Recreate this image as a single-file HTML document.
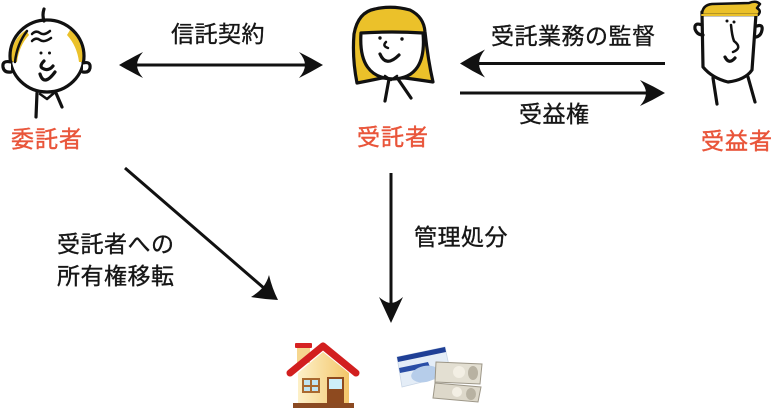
<!DOCTYPE html>
<html>
<head>
<meta charset="utf-8">
<style>
  html,body{margin:0;padding:0;background:#fff;}
  body{width:773px;height:414px;position:relative;overflow:hidden;}
  svg{position:absolute;left:0;top:0;}
  .t{position:absolute;white-space:nowrap;font-family:"Liberation Sans","Noto Sans CJK JP",sans-serif;font-size:23px;line-height:23px;letter-spacing:0.5px;color:#161616;-webkit-text-stroke:0.35px #161616;}
  .o{color:#E9553A;letter-spacing:1px;-webkit-text-stroke:0.4px #E9553A;}
</style>
</head>
<body>
<svg width="773" height="414" viewBox="0 0 773 414" xmlns="http://www.w3.org/2000/svg">
  <defs>
    <linearGradient id="wall" x1="0" x2="1" y1="0" y2="0">
      <stop offset="0" stop-color="#fdf0c8"/>
      <stop offset="1" stop-color="#f3c66a"/>
    </linearGradient>
  </defs>

  <!-- ===== Grandpa (委託者) ===== -->
  <g stroke="#111" stroke-width="3.2" stroke-linecap="round" stroke-linejoin="round" fill="none">
    <path d="M11,62 Q10,40 26,30 L29,35 Q19,46 17,62 Z" fill="#EBC12A" stroke="none"/>
    <path d="M83,62 Q84,40 70,30 L67,35 Q77,46 79,62 Z" fill="#EBC12A" stroke="none"/>
    <ellipse cx="47" cy="56" rx="37" ry="36" fill="none"/>
    <path d="M27,31 Q17,44 15,62" stroke-width="2.5"/>
    <path d="M11,62 Q2,60 3,67 Q4,73 11,72" fill="#fff"/>
    <path d="M83,63 Q91,61 90,68 Q89,73 83,72" fill="#fff"/>
    <path d="M44,9 Q42,15 44,21"/>
    <path d="M32,34 Q36,30 40,33 Q44,36 50,31" stroke-width="2.5"/>
    <path d="M32,41 Q36,37 40,40 Q44,43 51,38" stroke-width="2.5"/>
    <path d="M44,61 Q38,67 44,69 Q49,71 53,66"/>
    <path d="M40,74 Q44,87 55,72"/>
    <path d="M37,93 L36,117"/>
    <path d="M56,93 L62,107"/>
    <path d="M40,94 L47,99 L54,93" stroke-width="2.5"/>
  </g>
  <circle cx="41" cy="53" r="1.5" fill="#111"/>
  <circle cx="49.5" cy="53" r="1.5" fill="#111"/>

  <!-- ===== Woman (受託者) ===== -->
  <g stroke="#111" stroke-width="3.2" stroke-linecap="round" stroke-linejoin="round">
    <path d="M357,83 Q352,58 354,34 Q358,12 375,9 Q392,5 410,10 Q424,17 425,32 Q428,60 433,82 Q420,80 405,78 L382,78 Q368,81 357,83 Z" fill="#EBC12A"/>
    <path d="M361,33 Q392,31 423,33 Q427,78 393,79 Q358,78 361,33 Z" fill="#fff"/>
    <path d="M386,42 Q382,46 388,48" fill="none" stroke-width="2.5"/>
    <path d="M380,54 Q386,68 399,55" fill="none"/>
    <path d="M389,79 L385,101" fill="none"/>
    <path d="M398,79 L411,98" fill="none"/>
    <path d="M385,76 L391,80 L397,76" fill="none" stroke-width="2.5"/>
  </g>
  <circle cx="380" cy="38" r="1.7" fill="#111"/>
  <circle cx="402" cy="39" r="1.7" fill="#111"/>

  <!-- ===== Man (受益者) ===== -->
  <g stroke="#111" stroke-width="3.2" stroke-linecap="round" stroke-linejoin="round">
    <path d="M702,12 L703,67 Q712,78 728,82 Q745,80 752,70 L756,14 Z" fill="#fff"/>
    <path d="M702,15 Q702,5 712,4 L749,3 Q756,0 760,4 L757,8 Q762,11 758,15 Z" fill="#EBC12A" stroke-width="2.5"/>
    <path d="M702,15 L757,15" fill="none" stroke="#EBC12A" stroke-width="2"/>
    <path d="M702,25 Q694,22 695,29 Q697,35 703,35" fill="none"/>
    <path d="M757,26 Q763,24 762,30 Q761,36 756,37" fill="none"/>
    <path d="M731,25 Q732,36 734,41 Q743,48 733,52" fill="none" stroke-width="2.5"/>
    <path d="M725,57 Q729,65 735,58" fill="none"/>
    <path d="M713,78 L717,104" fill="none"/>
    <path d="M748,77 L755,102" fill="none"/>
  </g>
  <circle cx="727" cy="21" r="1.5" fill="#111"/>
  <circle cx="734" cy="22" r="1.5" fill="#111"/>

  <!-- ===== Arrows ===== -->
  <g fill="#111" stroke="none">
    <rect x="135" y="63.5" width="172" height="3"/>
    <path d="M119,65 Q131,58 143,52 Q137,59 137,65 Q137,71 143,78 Q131,72 119,65 Z"/>
    <path d="M323,65 Q311,58 299,52 Q305,59 305,65 Q305,71 299,78 Q311,72 323,65 Z"/>
    <rect x="477" y="62" width="188" height="3"/>
    <path d="M460,63.5 Q472,56 485,49.5 Q479,57 479,63.5 Q479,70 485,77.5 Q472,71 460,63.5 Z"/>
    <rect x="460" y="91.5" width="188" height="3"/>
    <path d="M665,93 Q653,86 640,80 Q646,87 646,93 Q646,99 640,106 Q653,100 665,93 Z"/>
    <rect x="389.5" y="173" width="3" height="133"/>
    <path d="M391,323 Q385,310 379,297 Q386,303 391,303 Q396,303 403,297 Q397,310 391,323 Z"/>
    <path d="M278,300 Q263,299 251,297 Q259,292 263,287 Q267,282 269,275 Q272,288 278,300 Z"/>
  </g>
  <line x1="125" y1="168" x2="265" y2="289" stroke="#111" stroke-width="3"/>

  <!-- ===== House ===== -->
  <rect x="297" y="347" width="13" height="16" fill="#f6d68e"/>
  <rect x="295" y="343" width="17" height="5" rx="1" fill="#d62222"/>
  <polygon points="298,373 323,352 349,373 349,404 298,404" fill="url(#wall)"/>
  <polyline points="290,373 323,346 356,373" fill="none" stroke="#d21f1f" stroke-width="7" stroke-linecap="round" stroke-linejoin="round"/>
  <rect x="302" y="378" width="18" height="15" fill="#a9692f"/>
  <rect x="304" y="380" width="6" height="5" fill="#bfe4f3"/>
  <rect x="312" y="380" width="6" height="5" fill="#bfe4f3"/>
  <rect x="304" y="387" width="6" height="4" fill="#bfe4f3"/>
  <rect x="312" y="387" width="6" height="4" fill="#bfe4f3"/>
  <rect x="327" y="377" width="17" height="27" fill="#8e4a1f"/>
  <rect x="329" y="379" width="13" height="10" fill="#cdeef9"/>
  <rect x="293" y="403" width="61" height="5" fill="#8b4a22"/>

  <!-- ===== Card & notes ===== -->
  <polygon points="397,357 445,347 451,375 402,387" fill="#e4edf7" stroke="#c9d6e6" stroke-width="0.8"/>
  <polygon points="397,357 445,347 446,352 398,362" fill="#1f3f96"/>
  <polygon points="399,368 428,362 430,367 400,373" fill="#2a4ea6"/>
  <ellipse cx="425" cy="374" rx="14" ry="8" fill="#b6cdea" transform="rotate(-12 425 374)"/>
  <polygon points="436,362 482,364 480,384 435,382" fill="#e3dfd2" stroke="#9d9788" stroke-width="1"/>
  <circle cx="459" cy="372" r="6" fill="#f3efe4"/>
  <ellipse cx="473" cy="373" rx="5" ry="7" fill="#b8b2a2"/>
  <polygon points="435,383 481,387 478,402 433,398" fill="#ddd8ca" stroke="#9d9788" stroke-width="1"/>
  <circle cx="457" cy="392" r="5" fill="#f3efe4"/>
  <ellipse cx="471" cy="394" rx="5" ry="6" fill="#b8b2a2"/>
</svg>

<div class="t" style="left:171px;top:23px;">信託契約</div>
<div class="t" style="left:491px;top:25px;">受託業務の監督</div>
<div class="t" style="left:519px;top:103px;">受益権</div>
<div class="t" style="left:57px;top:233px;">受託者への</div>
<div class="t" style="left:57px;top:265px;">所有権移転</div>
<div class="t" style="left:414px;top:226px;">管理処分</div>
<div class="t o" style="left:11px;top:128px;">委託者</div>
<div class="t o" style="left:357px;top:126px;">受託者</div>
<div class="t o" style="left:701px;top:130px;">受益者</div>
</body>
</html>
